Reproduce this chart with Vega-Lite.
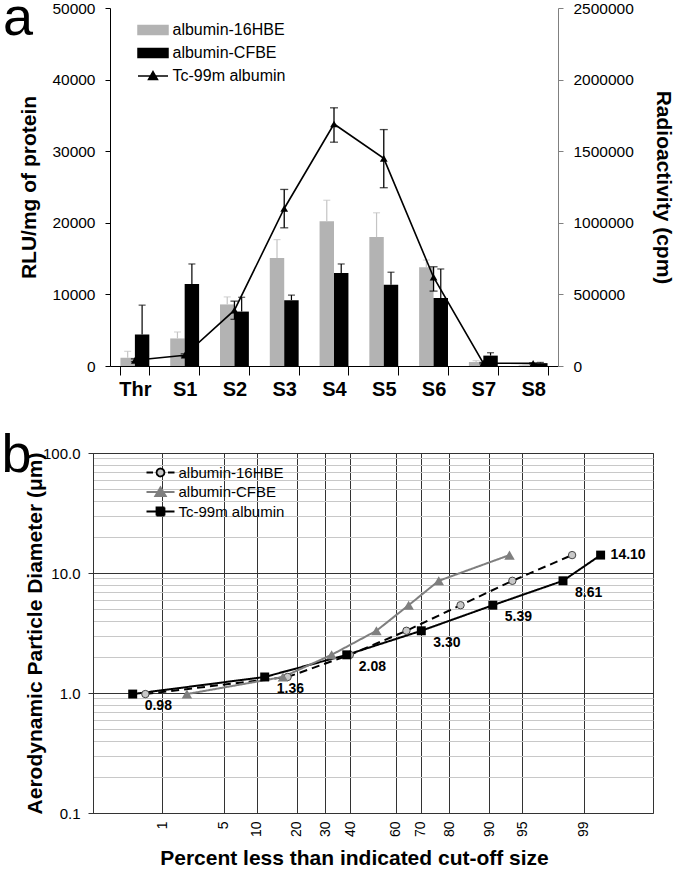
{
  "$schema": "https://vega.github.io/schema/vega-lite/v6.json",
  "padding": {"top": -8, "left": 0, "right": 4, "bottom": 0},
  "config": {
    "font": "Liberation Sans",
    "view": {"stroke": null},
    "axis": {"labelColor": "#000", "titleColor": "#000", "labelFont": "Liberation Sans", "titleFont": "Liberation Sans"},
    "legend": {"labelFont": "Liberation Sans", "labelColor": "#000"},
    "title": {"font": "Liberation Sans", "color": "#000"}
  },
  "datasets": {
    "a_bars": [
      {"stage": "Thr", "series": "albumin-16HBE", "value": 1150, "hi": 2050},
      {"stage": "Thr", "series": "albumin-CFBE", "value": 4400, "hi": 8500},
      {"stage": "S1", "series": "albumin-16HBE", "value": 3850, "hi": 4750},
      {"stage": "S1", "series": "albumin-CFBE", "value": 11450, "hi": 14250},
      {"stage": "S2", "series": "albumin-16HBE", "value": 8600, "hi": 9650},
      {"stage": "S2", "series": "albumin-CFBE", "value": 7600, "hi": 9600},
      {"stage": "S3", "series": "albumin-16HBE", "value": 15100, "hi": 17650},
      {"stage": "S3", "series": "albumin-CFBE", "value": 9200, "hi": 9900},
      {"stage": "S4", "series": "albumin-16HBE", "value": 20200, "hi": 23150},
      {"stage": "S4", "series": "albumin-CFBE", "value": 13000, "hi": 14250},
      {"stage": "S5", "series": "albumin-16HBE", "value": 18000, "hi": 21400},
      {"stage": "S5", "series": "albumin-CFBE", "value": 11350, "hi": 13100},
      {"stage": "S6", "series": "albumin-16HBE", "value": 13800, "hi": 14800},
      {"stage": "S6", "series": "albumin-CFBE", "value": 9500, "hi": 13550},
      {"stage": "S7", "series": "albumin-16HBE", "value": 550, "hi": 750},
      {"stage": "S7", "series": "albumin-CFBE", "value": 1450, "hi": 1850},
      {"stage": "S8", "series": "albumin-16HBE", "value": 80, "hi": 120},
      {"stage": "S8", "series": "albumin-CFBE", "value": 400, "hi": 500}
    ],
    "a_line": [
      {"stage": "Thr", "series": "Tc-99m albumin", "value": 40000, "lo": 30000, "hi": 50000},
      {"stage": "S1", "series": "Tc-99m albumin", "value": 75000, "lo": 65000, "hi": 85000},
      {"stage": "S2", "series": "Tc-99m albumin", "value": 390000, "lo": 326000, "hi": 453000},
      {"stage": "S3", "series": "Tc-99m albumin", "value": 1100000, "lo": 965000, "hi": 1233000},
      {"stage": "S4", "series": "Tc-99m albumin", "value": 1690000, "lo": 1563000, "hi": 1803000},
      {"stage": "S5", "series": "Tc-99m albumin", "value": 1450000, "lo": 1245000, "hi": 1651000},
      {"stage": "S6", "series": "Tc-99m albumin", "value": 620000, "lo": 523000, "hi": 693000},
      {"stage": "S7", "series": "Tc-99m albumin", "value": 20000, "lo": 15000, "hi": 25000},
      {"stage": "S8", "series": "Tc-99m albumin", "value": 18000, "lo": 14000, "hi": 22000}
    ],
    "b_pts": [
      {"series": "Tc-99m albumin", "pct": 0.40, "d": 0.98},
      {"series": "Tc-99m albumin", "pct": 11.6, "d": 1.36},
      {"series": "Tc-99m albumin", "pct": 38.6, "d": 2.08},
      {"series": "Tc-99m albumin", "pct": 70.3, "d": 3.30},
      {"series": "Tc-99m albumin", "pct": 90.7, "d": 5.39},
      {"series": "Tc-99m albumin", "pct": 98.2, "d": 8.61},
      {"series": "Tc-99m albumin", "pct": 99.4, "d": 14.10},
      {"series": "albumin-16HBE", "pct": 0.60, "d": 0.98},
      {"series": "albumin-16HBE", "pct": 17.3, "d": 1.36},
      {"series": "albumin-16HBE", "pct": 39.9, "d": 2.08},
      {"series": "albumin-16HBE", "pct": 64.4, "d": 3.30},
      {"series": "albumin-16HBE", "pct": 83.3, "d": 5.39},
      {"series": "albumin-16HBE", "pct": 93.8, "d": 8.61},
      {"series": "albumin-16HBE", "pct": 98.6, "d": 14.10},
      {"series": "albumin-CFBE", "pct": 2.0, "d": 0.98},
      {"series": "albumin-CFBE", "pct": 16.0, "d": 1.36},
      {"series": "albumin-CFBE", "pct": 32.4, "d": 2.08},
      {"series": "albumin-CFBE", "pct": 51.5, "d": 3.30},
      {"series": "albumin-CFBE", "pct": 65.3, "d": 5.39},
      {"series": "albumin-CFBE", "pct": 76.6, "d": 8.61},
      {"series": "albumin-CFBE", "pct": 93.4, "d": 14.10}
    ]
  },
  "columns": 1,
  "align": "none",
  "spacing": 29,
  "resolve": {
    "scale": {"color": "independent", "stroke": "independent", "fill": "independent", "shape": "independent", "size": "independent", "strokeDash": "independent"},
    "legend": {"color": "independent", "stroke": "independent", "fill": "independent", "shape": "independent", "size": "independent", "strokeDash": "independent"}
  },
  "concat": [
    {
      "width": 465,
      "height": 358,
      "title": {"text": "a", "anchor": "start", "frame": "bounds", "fontSize": 54, "fontWeight": "normal", "baseline": "alphabetic", "offset": -32, "dy": 56, "dx": -16},
      "encoding": {
        "x": {
          "field": "stage", "type": "nominal",
          "sort": ["Thr", "S1", "S2", "S3", "S4", "S5", "S6", "S7", "S8"],
          "scale": {"paddingInner": 0.42, "paddingOuter": 0.21, "range": [17, 465]},
          "axis": {"title": null, "labelAngle": 0, "labelFontSize": 20, "labelFontWeight": "bold", "tickBand": "extent", "tickSize": 9, "tickColor": "#000", "domainColor": "#000", "labelPadding": 4}
        }
      },
      "layer": [
        {
          "data": {"name": "a_bars"},
          "encoding": {
            "xOffset": {"field": "series", "type": "nominal", "sort": ["albumin-16HBE", "albumin-CFBE"], "scale": {"paddingInner": 0}}
          },
          "layer": [
            {
              "mark": {"type": "bar"},
              "encoding": {
                "y": {
                  "field": "value", "type": "quantitative", "scale": {"domain": [0, 50000]},
                  "axis": {"orient": "left", "offset": -17, "title": "RLU/mg of protein", "titleFontSize": 21, "titleFontWeight": "bold", "titlePadding": 12, "values": [0, 10000, 20000, 30000, 40000, 50000], "format": "d", "labelFontSize": 15.5, "tickSize": 5, "labelPadding": 10, "domainColor": "#000", "tickColor": "#000", "grid": false}
                },
                "color": {
                  "field": "series", "type": "nominal",
                  "scale": {"domain": ["albumin-16HBE", "albumin-CFBE", "Tc-99m albumin"], "range": ["#b3b3b3", "#000000", "#000000"]},
                  "legend": {
                    "orient": "none", "legendX": 52, "legendY": 14, "title": null,
                    "labelFontSize": 16, "symbolSize": 100, "labelOffset": 11.5, "rowPadding": 7,
                    "encode": {"symbols": {"update": {
                      "shape": {"signal": "datum.value === 'Tc-99m albumin' ? 'M-3,0H3M0,-0.9L0.9,0.7H-0.9Z' : 'M-3,-0.9H3V0.9H-3Z'"},
                      "fill": {"signal": "datum.value === 'albumin-16HBE' ? '#b3b3b3' : '#000000'"},
                      "stroke": {"signal": "datum.value === 'Tc-99m albumin' ? '#000000' : 'transparent'"},
                      "strokeWidth": {"value": 1.5},
                      "opacity": {"value": 1},
                      "fillOpacity": {"value": 1}
                    }}}
                  }
                }
              }
            },
            {
              "mark": {"type": "rule", "strokeWidth": 1.2},
              "encoding": {
                "y": {"field": "value", "type": "quantitative", "scale": {"domain": [0, 50000]}},
                "y2": {"field": "hi"},
                "color": {"condition": {"test": "datum.series === 'albumin-16HBE'", "value": "#c4c4c4"}, "value": "#000000"}
              }
            },
            {
              "mark": {"type": "tick", "thickness": 1.2, "size": 7},
              "encoding": {
                "y": {"field": "hi", "type": "quantitative", "scale": {"domain": [0, 50000]}},
                "color": {"condition": {"test": "datum.series === 'albumin-16HBE'", "value": "#c4c4c4"}, "value": "#000000"}
              }
            }
          ]
        },
        {
          "data": {"name": "a_line"},
          "layer": [
            {
              "mark": {"type": "line", "strokeWidth": 1.6, "point": {"shape": "triangle-up", "size": 60, "filled": true, "color": "#000000"}},
              "encoding": {
                "y": {
                  "field": "value", "type": "quantitative", "scale": {"domain": [0, 2500000]},
                  "axis": {"orient": "right", "title": "Radioactivity (cpm)", "titleFontSize": 21, "titleFontWeight": "bold", "titlePadding": 19, "values": [0, 500000, 1000000, 1500000, 2000000, 2500000], "format": "d", "labelFontSize": 15.5, "tickSize": 5, "labelPadding": 10, "domainColor": "#808080", "tickColor": "#808080", "grid": false}
                },
                "color": {
                  "field": "series", "type": "nominal",
                  "scale": {"domain": ["albumin-16HBE", "albumin-CFBE", "Tc-99m albumin"], "range": ["#b3b3b3", "#000000", "#000000"]}
                }
              }
            },
            {
              "mark": {"type": "rule", "strokeWidth": 1.3, "color": "#000000"},
              "encoding": {
                "y": {"field": "lo", "type": "quantitative", "scale": {"domain": [0, 2500000]}},
                "y2": {"field": "hi"}
              }
            },
            {
              "mark": {"type": "tick", "thickness": 1.3, "size": 8, "color": "#000000"},
              "encoding": {"y": {"field": "lo", "type": "quantitative", "scale": {"domain": [0, 2500000]}}}
            },
            {
              "mark": {"type": "tick", "thickness": 1.3, "size": 8, "color": "#000000"},
              "encoding": {"y": {"field": "hi", "type": "quantitative", "scale": {"domain": [0, 2500000]}}}
            }
          ]
        }
      ],
      "resolve": {"scale": {"y": "independent"}}
    },
    {
      "width": 560,
      "height": 360,
      "title": {"text": "b", "anchor": "start", "frame": "bounds", "fontSize": 54, "fontWeight": "normal", "baseline": "alphabetic", "offset": -27, "dy": 53, "dx": -23},
      "view": {"stroke": "#333333", "strokeWidth": 1},
      "data": {"name": "b_pts"},
      "transform": [{"calculate": "quantileNormal(datum.pct / 100)", "as": "z"}],
      "encoding": {
        "x": {
          "field": "z", "type": "quantitative",
          "scale": {"domain": [-3.0902, 3.0902], "nice": false, "zero": false},
          "axis": {
            "values": [-2.3263, -1.6449, -1.2816, -0.8416, -0.5244, -0.2533, 0.2533, 0.5244, 0.8416, 1.2816, 1.6449, 2.3263],
            "labelExpr": "format(cumulativeNormal(datum.value) * 100, '.0f')",
            "labelAngle": -90, "labelAlign": "right", "labelBaseline": "middle", "labelPadding": 8,
            "ticks": false, "domain": false, "grid": true, "gridColor": "#333333", "gridWidth": 1,
            "labelFontSize": 14,
            "title": "Percent less than indicated  cut-off size", "titleFontSize": 21, "titleFontWeight": "bold", "titlePadding": 11, "titleX": 261
          }
        }
      },
      "layer": [
        {
          "mark": {"type": "line", "strokeWidth": 2},
          "encoding": {
            "y": {
              "field": "d", "type": "quantitative", "scale": {"type": "log", "domain": [0.1, 100], "nice": false},
              "axis": {"orient": "left", "values": [0.2, 0.3, 0.4, 0.5, 0.6, 0.7, 0.8, 0.9, 2, 3, 4, 5, 6, 7, 8, 9, 20, 30, 40, 50, 60, 70, 80, 90], "grid": true, "gridColor": "#c8c8c8", "gridWidth": 1, "labels": false, "ticks": false, "domain": false, "title": null}
            },
            "stroke": {
              "field": "series", "type": "nominal",
              "scale": {"domain": ["albumin-16HBE", "albumin-CFBE", "Tc-99m albumin"], "range": ["#000000", "#7f7f7f", "#000000"]},
              "legend": {
                "orient": "none", "legendX": 60, "legendY": 12, "title": null,
                "labelFontSize": 15, "symbolSize": 100, "labelOffset": 10.5, "rowPadding": 2.5,
                "encode": {"symbols": {"update": {
                  "shape": {"signal": "datum.value === 'albumin-16HBE' ? 'M-2.8,0H-1.5M1.5,0H2.8M0.8,0L0.693,0.4L0.4,0.693L0,0.8L-0.4,0.693L-0.693,0.4L-0.8,0L-0.693,-0.4L-0.4,-0.693L0,-0.8L0.4,-0.693L0.693,-0.4Z' : datum.value === 'albumin-CFBE' ? 'M-2.8,0H2.8M0,-0.95L1.05,0.8H-1.05Z' : 'M-2.8,0H2.8M-0.8,-0.8H0.8V0.8H-0.8Z'"},
                  "fill": {"signal": "datum.value === 'albumin-16HBE' ? '#c8c8c8' : datum.value === 'albumin-CFBE' ? '#7f7f7f' : '#000000'"},
                  "stroke": {"signal": "datum.value === 'albumin-CFBE' ? '#7f7f7f' : '#000000'"},
                  "strokeWidth": {"value": 1.8},
                  "strokeDash": {"value": [1, 0]},
                  "opacity": {"value": 1},
                  "fillOpacity": {"value": 1},
                  "strokeOpacity": {"value": 1}
                }}}
              }
            },
            "strokeDash": {"condition": {"test": "datum.series === 'albumin-16HBE'", "value": [8, 5]}, "value": [1, 0]}
          }
        },
        {
          "transform": [{"filter": "datum.series === 'albumin-16HBE'"}],
          "mark": {"type": "point", "shape": "circle", "size": 55, "filled": true, "fill": "#c8c8c8", "stroke": "#444444", "strokeWidth": 1, "opacity": 1},
          "encoding": {
            "y": {
              "field": "d", "type": "quantitative", "scale": {"type": "log", "domain": [0.1, 100], "nice": false},
              "axis": {"orient": "left", "values": [0.1, 1, 10, 100], "labelExpr": "format(datum.value, '.1f')", "grid": true, "gridColor": "#333333", "gridWidth": 1, "domain": true, "domainColor": "#333333", "ticks": true, "tickColor": "#333333", "tickSize": 5, "labelFontSize": 15, "labelPadding": 8, "title": "Aerodynamic Particle Diameter (μm)", "titleFontSize": 21, "titleFontWeight": "bold", "titlePadding": -3}
            }
          }
        },
        {
          "transform": [{"filter": "datum.series === 'albumin-CFBE'"}],
          "mark": {"type": "point", "shape": "triangle-up", "size": 110, "filled": true, "fill": "#7f7f7f", "opacity": 1},
          "encoding": {
            "y": {"field": "d", "type": "quantitative", "scale": {"type": "log", "domain": [0.1, 100], "nice": false}, "axis": null}
          }
        },
        {
          "transform": [{"filter": "datum.series === 'Tc-99m albumin'"}],
          "mark": {"type": "point", "shape": "square", "size": 80, "filled": true, "fill": "#000000", "opacity": 1},
          "encoding": {
            "y": {"field": "d", "type": "quantitative", "scale": {"type": "log", "domain": [0.1, 100], "nice": false}, "axis": null}
          }
        },
        {
          "transform": [{"filter": "datum.series === 'Tc-99m albumin' && datum.d < 14"}],
          "mark": {"type": "text", "align": "left", "baseline": "middle", "dx": 12, "dy": 12, "fontSize": 14, "fontWeight": "bold", "color": "#000000"},
          "encoding": {
            "y": {"field": "d", "type": "quantitative", "scale": {"type": "log", "domain": [0.1, 100], "nice": false}, "axis": null},
            "text": {"field": "d", "type": "quantitative", "format": ".2f"}
          }
        },
        {
          "transform": [{"filter": "datum.series === 'Tc-99m albumin' && datum.d > 14"}],
          "mark": {"type": "text", "align": "left", "baseline": "middle", "dx": 10, "dy": 0, "fontSize": 14, "fontWeight": "bold", "color": "#000000"},
          "encoding": {
            "y": {"field": "d", "type": "quantitative", "scale": {"type": "log", "domain": [0.1, 100], "nice": false}, "axis": null},
            "text": {"field": "d", "type": "quantitative", "format": ".2f"}
          }
        }
      ],
      "resolve": {"axis": {"y": "independent"}}
    }
  ]
}
